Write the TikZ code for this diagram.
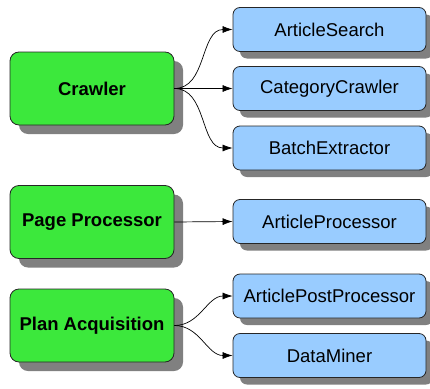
\documentclass[tikz,border=0pt]{standalone}
\usepackage{fontspec}
\setmainfont{Liberation Sans}
\usetikzlibrary{shadows,arrows.meta}
\definecolor{grn}{HTML}{3CE83C}
\definecolor{blu}{HTML}{99CCFF}
\definecolor{shade}{HTML}{808080}
\tikzstyle{every node}=[font=\fontsize{18.5}{22}\selectfont]
\tikzstyle{group}=[draw=black!85, line width=0.8pt, fill=grn, rounded corners=9pt, inner sep=0pt,
  minimum width=164pt, minimum height=73pt, font=\fontsize{18.5}{22}\selectfont\bfseries,
  drop shadow={shadow xshift=9pt, shadow yshift=-9pt, fill=shade, opacity=1}]
\tikzstyle{task}=[draw=black!85, line width=0.8pt, fill=blu, rounded corners=7pt, inner sep=0pt,
  minimum width=193pt, minimum height=44pt,
  drop shadow={shadow xshift=7pt, shadow yshift=-7pt, fill=shade, opacity=1}]
\tikzstyle{link}=[-{Latex[length=10pt,width=7pt]}, line width=0.7pt]

\begin{document}
\begin{tikzpicture}[x=1pt,y=-1pt]
	\useasboundingbox (0,0) rectangle (430,388);
	\node[group] (crawler) at (92,88.5) {Crawler};
	\node[group] (page) at (92,222) {Page Processor};
	\node[group] (plan) at (92,325.5) {Plan Acquisition};
	\node[task] (search) at (329.5,29.5) {ArticleSearch};
	\node[task] (category) at (329.5,88.5) {CategoryCrawler};
	\node[task] (batch) at (329.5,148) {BatchExtractor};
	\node[task] (article) at (329.5,221.5) {ArticleProcessor};
	\node[task] (post) at (329.5,296) {ArticlePostProcessor};
	\node[task] (miner) at (329.5,355.5) {DataMiner};
	\draw[link] (crawler.east) to[out=0,in=180] (search.west); % crawler tasks
	\draw[link] (crawler.east) -- (category.west);
	\draw[link] (crawler.east) to[out=0,in=180] (batch.west);
	\draw[link] (page.east) -- (article.west); % page processing
	\draw[link] (plan.east) to[out=0,in=180] (post.west); % plan acquisition
	\draw[link] (plan.east) to[out=0,in=180] (miner.west);
\end{tikzpicture}
\end{document}
